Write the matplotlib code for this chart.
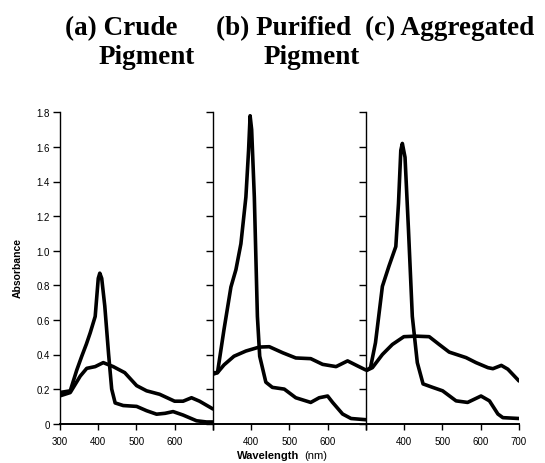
import matplotlib
matplotlib.use("Agg")
import matplotlib.pyplot as plt

# wavelength (nm) / absorbance pairs for each spectrum, read at the turning points
crude_peak_nm = [300, 328, 345, 358, 370, 380, 393, 401, 405, 410, 418, 428, 436, 445, 466, 501, 527, 553, 575, 596, 622, 657, 683, 700]
crude_peak_abs = [0.18, 0.19, 0.31, 0.39, 0.46, 0.525, 0.62, 0.84, 0.87, 0.84, 0.68, 0.40, 0.20, 0.12, 0.105, 0.10, 0.075, 0.055, 0.06, 0.07, 0.05, 0.017, 0.01, 0.01]
crude_broad_nm = [300, 328, 354, 371, 393, 414, 440, 470, 501, 527, 561, 600, 622, 644, 665, 700]
crude_broad_abs = [0.16, 0.18, 0.275, 0.32, 0.33, 0.353, 0.33, 0.295, 0.22, 0.19, 0.17, 0.13, 0.13, 0.15, 0.13, 0.085]

purified_peak_nm = [300, 313, 330, 348, 361, 374, 387, 394, 398, 402, 409, 417, 423, 439, 456, 487, 517, 556, 578, 600, 613, 639, 661, 700]
purified_peak_abs = [0.295, 0.295, 0.545, 0.79, 0.89, 1.04, 1.31, 1.58, 1.78, 1.70, 1.31, 0.62, 0.39, 0.24, 0.21, 0.20, 0.15, 0.123, 0.15, 0.16, 0.123, 0.056, 0.03, 0.023]
purified_broad_nm = [300, 313, 330, 356, 387, 422, 448, 483, 517, 556, 587, 622, 652, 678, 700]
purified_broad_abs = [0.285, 0.295, 0.34, 0.39, 0.42, 0.443, 0.445, 0.41, 0.38, 0.376, 0.343, 0.33, 0.363, 0.334, 0.31]

aggregated_peak_nm = [300, 313, 326, 344, 361, 379, 386, 392, 396, 403, 412, 422, 435, 450, 475, 501, 536, 566, 601, 623, 645, 658, 700]
aggregated_peak_abs = [0.305, 0.324, 0.468, 0.794, 0.91, 1.024, 1.274, 1.58, 1.62, 1.54, 1.12, 0.62, 0.353, 0.23, 0.21, 0.19, 0.132, 0.123, 0.16, 0.132, 0.056, 0.035, 0.03]
aggregated_broad_nm = [300, 318, 344, 370, 400, 431, 466, 492, 518, 562, 588, 619, 632, 654, 671, 700]
aggregated_broad_abs = [0.305, 0.324, 0.40, 0.458, 0.503, 0.506, 0.503, 0.458, 0.414, 0.382, 0.353, 0.324, 0.318, 0.337, 0.315, 0.247]

panel_titles = [("(a) Crude", "Pigment"), ("(b) Purified", "Pigment"), ("(c) Aggregated", "")]
x_ticks = [300, 400, 500, 600, 700]
x_labels = [["300", "400", "500", "600", ""],
            ["", "400", "500", "600", ""],
            ["", "400", "500", "600", "700"]]
y_ticks = [0, 0.2, 0.4, 0.6, 0.8, 1.0, 1.2, 1.4, 1.6, 1.8]
y_labels = ["0", "0.2", "0.4", "0.6", "0.8", "1.0", "1.2", "1.4", "1.6", "1.8"]

spectra = [
    (crude_peak_nm, crude_peak_abs, crude_broad_nm, crude_broad_abs),
    (purified_peak_nm, purified_peak_abs, purified_broad_nm, purified_broad_abs),
    (aggregated_peak_nm, aggregated_peak_abs, aggregated_broad_nm, aggregated_broad_abs),
]

W, H = 545, 464
fig = plt.figure(figsize=(W / 100, H / 100), dpi=100)
tick_font = {"family": "Liberation Sans", "size": 7}

lefts = [59.5, 212.5, 365.5]
title_x = [(65, 99), (216, 264), (365, None)]
for i, (px, (pnm, pab, bnm, bab)) in enumerate(zip(lefts, spectra)):
    ax = fig.add_axes([px / W, (H - 424.7) / H, 153.5 / W, 311.4 / H])
    ax.plot(pnm, pab, color="black", lw=2.6, solid_joinstyle="round", solid_capstyle="round")
    ax.plot(bnm, bab, color="black", lw=2.6, solid_joinstyle="round", solid_capstyle="round")
    ax.set_xlim(300, 700)
    ax.set_ylim(0, 1.8)
    for side in ("top", "right"):
        ax.spines[side].set_visible(False)
    ax.spines["left"].set_linewidth(1.0)
    ax.spines["bottom"].set_linewidth(1.4)
    ax.set_xticks(x_ticks)
    ax.set_xticklabels(x_labels[i], fontdict=tick_font)
    ax.set_yticks(y_ticks)
    ax.set_yticklabels(y_labels if i == 0 else [""] * len(y_ticks), fontdict=tick_font)
    ax.tick_params(axis="x", direction="out", length=4, width=1, pad=5)
    ax.tick_params(axis="y", direction="out", length=5, width=1, pad=2)
    ax.patch.set_alpha(0)

    line1, line2 = panel_titles[i]
    x1, x2 = title_x[i]
    fig.text(x1 / W, 1 - 35 / H, line1, family="Liberation Serif", weight="bold",
             size=19.5, ha="left", va="baseline")
    if line2:
        fig.text(x2 / W, 1 - 64 / H, line2, family="Liberation Serif", weight="bold",
                 size=19.5, ha="left", va="baseline")

fig.text(18 / W, 1 - 268 / H, "Absorbance", family="Liberation Sans", weight="bold",
         size=7.5, rotation=90, ha="center", va="center")
fig.text(299 / W, 1 - 456 / H, "Wavelength", family="Liberation Sans", weight="bold",
         size=8, ha="right", va="center")
fig.text(304 / W, 1 - 456 / H, "(nm)", family="Liberation Sans",
         size=8, ha="left", va="center")

fig.savefig("out.png", dpi=100)
